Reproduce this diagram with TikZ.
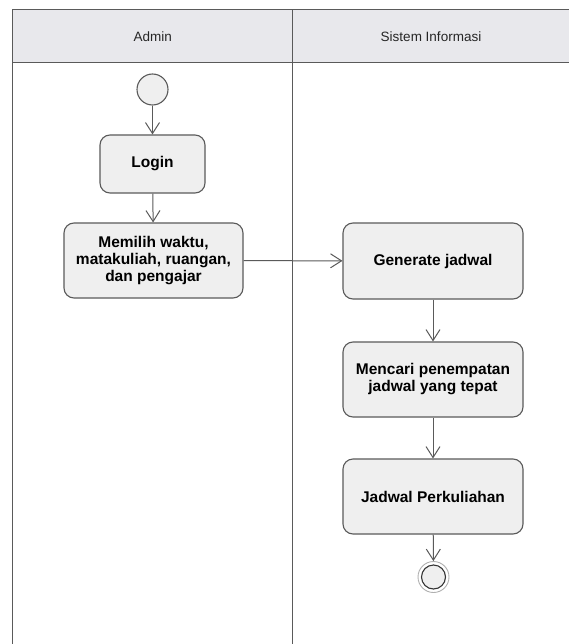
\documentclass[tikz,border=0pt]{standalone}
\usepackage{fontspec}
\setmainfont{Liberation Sans}
\usetikzlibrary{arrows.meta}
\definecolor{linegray}{HTML}{5A5A5A}
\definecolor{boxfill}{HTML}{EFEFEF}
\definecolor{headfill}{HTML}{E8E8EC}
\definecolor{ringgray}{HTML}{B0B0B0}
\begin{document}
\begin{tikzpicture}[x=1pt,y=-1pt,
  act/.style={draw=linegray, fill=boxfill, rounded corners=10pt, line width=1.1pt,
    align=center, inner sep=0pt, font=\fontsize{15.5}{17}\selectfont\bfseries},
  flow/.style={draw=linegray, line width=1pt, -{Straight Barb[length=11pt,width=14pt,line width=1pt]}},
  lane/.style={draw=linegray, line width=1.5pt},
  headtext/.style={font=\fontsize{13.5}{15}\selectfont, text=black!85}]
\useasboundingbox[fill=white] (0,0) rectangle (569,644);
% header
\fill[headfill] (12.7,9.5) rectangle (569,62.7);
\draw[lane] (569,9.5) -- (12.7,9.5) -- (12.7,644);
\draw[lane] (12.7,62.7) -- (569,62.7);
\draw[lane] (292.7,9.5) -- (292.7,644);
\node[headtext] (hA) at (152.7,36.5) {Admin};
\node[headtext] (hS) at (431,36.5) {Sistem Informasi};
% nodes
\node[circle, draw=linegray, fill=boxfill, line width=1.1pt, minimum size=31pt, inner sep=0pt] (start) at (152.5,89.5) {};
\node[act, minimum width=105pt, minimum height=58pt] (login) at (152.5,164) {Login};
\node[act, minimum width=179pt, minimum height=75pt] (pilih) at (153.5,260.5) {Memilih waktu,\\matakuliah, ruangan,\\dan pengajar};
\node[act, minimum width=180pt, minimum height=76pt] (gen) at (433,261) {Generate jadwal};
\node[act, minimum width=180pt, minimum height=75pt] (cari) at (433,379.5) {Mencari penempatan\\jadwal yang tepat};
\node[act, minimum width=180pt, minimum height=75pt] (jad) at (433,496.5) {Jadwal Perkuliahan};
\node[circle, draw=ringgray, line width=0.9pt, minimum size=31pt, inner sep=0pt] (end) at (433.5,577) {};
\node[circle, draw=black!80, fill=boxfill, line width=1.1pt, minimum size=24pt, inner sep=0pt] (endin) at (end.center) {};
% flows
\draw[flow] (start) -- (login);
\draw[flow] (login) -- (pilih);
\draw[flow] (pilih) -- (gen);
\draw[flow] (gen) -- (cari);
\draw[flow] (cari) -- (jad);
\draw[flow] (jad) -- (end);
\end{tikzpicture}
\end{document}
